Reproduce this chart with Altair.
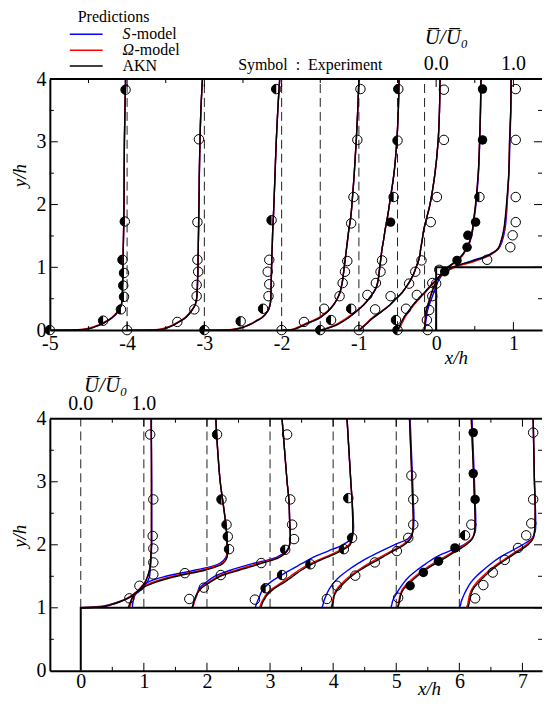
import altair as alt
import pandas as pd

FONT = "Liberation Serif"
W = 494
H1 = 252
H2 = 253
BLUE, RED, BLACK = "#0000ff", "#ff0000", "#000000"
HALF = "M0,-1 A1,1 0 0,0 0,1 Z"
NB = "\u00a0"

# ---------------- upstream panel (x/h < 0) ----------------
top_stations = [-5, -4, -3, -2, -1.5, -1, -0.5, -0.15]
top_y = [0, 0.005, 0.02, 0.05, 0.1, 0.15, 0.2, 0.3, 0.4, 0.5, 0.6, 0.7, 0.8, 0.9,
         1.0, 1.1, 1.2, 1.3, 1.4, 1.6, 1.8, 2.0, 2.5, 3.0, 3.5, 4.0]

akn_m5 = [0, 0.35, 0.50, 0.58, 0.68, 0.75, 0.81, 0.885, 0.925, 0.935, 0.94, 0.94, 0.945, 0.945, 0.945, 0.95, 0.95, 0.95, 0.952, 0.955, 0.957, 0.96, 0.962, 0.965, 0.972, 0.98]
akn_m4 = [0, 0.40, 0.48, 0.55, 0.63, 0.70, 0.76, 0.83, 0.88, 0.90, 0.905, 0.91, 0.912, 0.915, 0.917, 0.918, 0.92, 0.921, 0.922, 0.925, 0.927, 0.93, 0.935, 0.943, 0.955, 0.975]
akn_m3 = [0, 0.36, 0.43, 0.52, 0.61, 0.68, 0.75, 0.82, 0.85, 0.86, 0.862, 0.864, 0.866, 0.868, 0.87, 0.872, 0.874, 0.877, 0.88, 0.885, 0.893, 0.90, 0.915, 0.93, 0.95, 0.975]
akn_m2 = [0, 0.13, 0.18, 0.24, 0.32, 0.42, 0.50, 0.60, 0.67, 0.72, 0.755, 0.775, 0.79, 0.80, 0.81, 0.82, 0.83, 0.84, 0.85, 0.87, 0.895, 0.91, 0.94, 0.965, 0.985, 1.0]
akn_m15 = [0, 0.03, 0.07, 0.15, 0.24, 0.31, 0.37, 0.47, 0.56, 0.63, 0.69, 0.73, 0.75, 0.76, 0.77, 0.78, 0.79, 0.80, 0.815, 0.84, 0.87, 0.895, 0.955, 0.99, 1.01, 1.02]
akn_m1 = [0, 0.01, 0.025, 0.055, 0.10, 0.14, 0.19, 0.30, 0.40, 0.48, 0.56, 0.62, 0.67, 0.71, 0.74, 0.77, 0.79, 0.80, 0.815, 0.84, 0.88, 0.92, 0.985, 1.025, 1.043, 1.05]
akn_m05 = [0, 0.003, 0.01, 0.02, 0.04, 0.06, 0.08, 0.14, 0.20, 0.27, 0.35, 0.42, 0.50, 0.57, 0.65, 0.76, 0.84, 0.89, 0.93, 0.97, 0.99, 1.01, 1.045, 1.062, 1.073, 1.08]
akn_m015 = [0, 0.0, 0.002, 0.004, 0.007, 0.01, 0.013, 0.02, 0.045, 0.07, 0.095, 0.125, 0.16, 0.23, 0.36, 0.62, 0.84, 0.95, 0.985, 1.025, 1.045, 1.06, 1.09, 1.10, 1.115, 1.12]

om_m5 = [0, 0.30, 0.46, 0.56, 0.66, 0.74, 0.80, 0.88, 0.925, 0.935, 0.94, 0.94, 0.945, 0.945, 0.945, 0.95, 0.95, 0.95, 0.952, 0.955, 0.957, 0.96, 0.962, 0.965, 0.972, 0.98]
om_m4 = [0, 0.35, 0.45, 0.53, 0.62, 0.69, 0.75, 0.825, 0.88, 0.90, 0.905, 0.91, 0.912, 0.915, 0.917, 0.918, 0.92, 0.921, 0.922, 0.925, 0.927, 0.93, 0.935, 0.943, 0.955, 0.975]
om_m3 = [0, 0.32, 0.40, 0.50, 0.60, 0.67, 0.74, 0.815, 0.85, 0.86, 0.862, 0.864, 0.866, 0.868, 0.87, 0.872, 0.874, 0.877, 0.88, 0.885, 0.893, 0.90, 0.915, 0.93, 0.95, 0.975]
om_m2 = [0, 0.11, 0.16, 0.22, 0.30, 0.40, 0.48, 0.59, 0.67, 0.72, 0.755, 0.775, 0.79, 0.80, 0.81, 0.82, 0.83, 0.84, 0.85, 0.87, 0.895, 0.91, 0.94, 0.965, 0.985, 1.0]
om_m15 = [0, 0.02, 0.06, 0.13, 0.22, 0.29, 0.35, 0.46, 0.56, 0.63, 0.69, 0.73, 0.75, 0.76, 0.77, 0.78, 0.79, 0.80, 0.815, 0.84, 0.87, 0.895, 0.955, 0.99, 1.01, 1.02]
om_m1 = [0, 0.008, 0.02, 0.045, 0.09, 0.13, 0.175, 0.29, 0.40, 0.48, 0.56, 0.62, 0.67, 0.71, 0.74, 0.77, 0.79, 0.80, 0.815, 0.84, 0.88, 0.92, 0.985, 1.025, 1.043, 1.05]
om_m05 = [0, 0.01, 0.02, 0.035, 0.055, 0.075, 0.095, 0.15, 0.21, 0.28, 0.36, 0.43, 0.51, 0.58, 0.66, 0.77, 0.85, 0.895, 0.93, 0.97, 0.99, 1.01, 1.045, 1.062, 1.073, 1.08]
om_m015 = [0, 0.0, 0.0, 0.002, 0.004, 0.006, 0.009, 0.016, 0.04, 0.065, 0.09, 0.12, 0.16, 0.24, 0.39, 0.66, 0.86, 0.955, 0.99, 1.03, 1.05, 1.065, 1.09, 1.10, 1.115, 1.12]

s_m5 = [0, 0.34, 0.49, 0.575, 0.675, 0.75, 0.81, 0.885, 0.925, 0.935, 0.94, 0.94, 0.945, 0.945, 0.945, 0.95, 0.95, 0.95, 0.952, 0.955, 0.957, 0.96, 0.962, 0.965, 0.972, 0.98]
s_m4 = [0, 0.39, 0.475, 0.545, 0.625, 0.70, 0.76, 0.83, 0.88, 0.90, 0.905, 0.91, 0.912, 0.915, 0.917, 0.918, 0.92, 0.921, 0.922, 0.925, 0.927, 0.93, 0.935, 0.943, 0.955, 0.975]
s_m3 = [0, 0.35, 0.425, 0.515, 0.605, 0.68, 0.75, 0.82, 0.85, 0.86, 0.862, 0.864, 0.866, 0.868, 0.87, 0.872, 0.874, 0.877, 0.88, 0.885, 0.893, 0.90, 0.915, 0.93, 0.95, 0.975]
s_m2 = [0, 0.125, 0.175, 0.235, 0.315, 0.415, 0.50, 0.60, 0.67, 0.72, 0.755, 0.775, 0.79, 0.80, 0.81, 0.82, 0.83, 0.84, 0.85, 0.87, 0.895, 0.91, 0.94, 0.965, 0.985, 1.0]
s_m15 = [0, 0.028, 0.068, 0.145, 0.235, 0.305, 0.37, 0.47, 0.56, 0.63, 0.69, 0.73, 0.75, 0.76, 0.77, 0.78, 0.79, 0.80, 0.815, 0.84, 0.87, 0.895, 0.955, 0.99, 1.01, 1.02]
s_m1 = [0, 0.01, 0.024, 0.053, 0.098, 0.14, 0.19, 0.30, 0.40, 0.48, 0.56, 0.62, 0.67, 0.71, 0.74, 0.77, 0.79, 0.80, 0.815, 0.84, 0.88, 0.92, 0.985, 1.025, 1.043, 1.05]
s_m05 = [0, 0.004, 0.012, 0.024, 0.045, 0.065, 0.085, 0.145, 0.205, 0.275, 0.355, 0.425, 0.505, 0.575, 0.655, 0.76, 0.84, 0.895, 0.935, 0.975, 0.995, 1.015, 1.048, 1.064, 1.075, 1.082]
s_m015 = [0, 0.001, 0.004, 0.008, 0.013, 0.018, 0.024, 0.036, 0.06, 0.09, 0.12, 0.15, 0.185, 0.25, 0.37, 0.60, 0.83, 0.96, 1.0, 1.04, 1.058, 1.068, 1.092, 1.105, 1.117, 1.122]

top_akn = [akn_m5, akn_m4, akn_m3, akn_m2, akn_m15, akn_m1, akn_m05, akn_m015]
top_om = [om_m5, om_m4, om_m3, om_m2, om_m15, om_m1, om_m05, om_m015]
top_s = [s_m5, s_m4, s_m3, s_m2, s_m15, s_m1, s_m05, s_m015]

# experiment: (U/U0, y/h, symbol kind: o = open, h = half, f = filled)
exp_m5 = [(0, 0, "h"), (0.69, 0.15, "h"), (0.92, 0.33, "h"), (0.96, 0.53, "h"), (0.95, 0.71, "h"), (0.96, 0.91, "h"), (0.94, 1.12, "h"), (0.97, 1.73, "h"), (0.98, 3.83, "h")]
exp_m4 = [(0, 0, "o"), (0.65, 0.13, "o"), (0.87, 0.33, "o"), (0.90, 0.54, "o"), (0.90, 0.72, "o"), (0.92, 0.93, "o"), (0.91, 1.12, "o"), (0.91, 1.72, "o"), (0.93, 3.04, "o")]
exp_m3 = [(0, 0, "h"), (0.47, 0.14, "h"), (0.76, 0.34, "h"), (0.83, 0.54, "o"), (0.84, 0.73, "o"), (0.82, 0.93, "o"), (0.84, 1.12, "o"), (0.87, 1.75, "h"), (0.93, 3.84, "h")]
exp_m2 = [(0, 0, "o"), (0.29, 0.13, "o"), (0.55, 0.34, "o"), (0.75, 0.54, "o"), (0.79, 0.75, "o"), (0.82, 0.93, "o"), (0.85, 1.10, "o"), (0.90, 1.70, "o"), (0.93, 2.12, "o"), (0.98, 3.03, "o"), (1.02, 3.84, "o")]
exp_m15 = [(0, 0, "h"), (0.14, 0.16, "h"), (0.40, 0.34, "h"), (0.61, 0.56, "o"), (0.72, 0.75, "o"), (0.78, 0.93, "o"), (0.80, 1.11, "o"), (0.91, 1.72, "f"), (0.95, 2.12, "h"), (1.0, 3.02, "h"), (1.01, 3.84, "h")]
exp_m1 = [(0, 0, "o"), (0.21, 0.33, "o"), (0.41, 0.54, "o"), (0.65, 0.74, "o"), (0.73, 0.93, "o"), (0.81, 1.11, "o"), (0.93, 1.72, "o"), (1.01, 2.12, "o"), (1.10, 3.03, "o"), (1.10, 3.83, "o")]
exp_m05 = [(0, 0, "h"), (-0.02, 0.16, "h"), (0.11, 0.34, "o"), (0.25, 0.56, "o"), (0.45, 0.75, "o"), (0.61, 0.93, "f"), (0.77, 1.11, "f"), (0.90, 1.32, "f"), (0.91, 1.51, "f"), (1.01, 1.72, "f"), (1.06, 2.12, "h"), (1.10, 3.03, "f"), (1.10, 3.84, "f")]
exp_m015 = [(0.04, 0, "o"), (0.03, 0.16, "o"), (0.06, 0.32, "o"), (0.10, 0.54, "o"), (0.15, 0.74, "o"), (0.19, 0.96, "o"), (0.81, 1.12, "o"), (1.11, 1.32, "o"), (1.14, 1.51, "o"), (1.18, 1.72, "o"), (1.18, 2.12, "o"), (1.18, 3.03, "o"), (1.18, 3.84, "o")]
top_exp = [exp_m5, exp_m4, exp_m3, exp_m2, exp_m15, exp_m1, exp_m05, exp_m015]

top_dashed = [-4, -3, -2, -1.5, -1, -0.5, -0.15]
top_domain = [-5, 1.37]
top_step_x = [0, 0, 1.37]
top_step_y = [0, 1, 1]
top_xlabels = [-5, -4, -3, -2, -1, 0, 1]

# ---------------- downstream panel (on top of the step) ----------------
bot_stations = [0, 1, 2, 3, 4, 5, 6]
bot_y = [1.0, 1.02, 1.05, 1.1, 1.15, 1.2, 1.3, 1.4, 1.5, 1.6, 1.7, 1.8, 1.9, 2.0, 2.1, 2.2, 2.4, 2.7, 3.0, 3.5, 4.0]

akn_p0 = [0, 0.38, 0.49, 0.63, 0.74, 0.82, 0.94, 1.02, 1.06, 1.09, 1.105, 1.11, 1.115, 1.12, 1.12, 1.12, 1.12, 1.12, 1.12, 1.12, 1.115]
akn_p1 = [-0.25, -0.24, -0.23, -0.21, -0.19, -0.16, -0.05, 0.17, 0.52, 0.98, 1.25, 1.32, 1.32, 1.32, 1.31, 1.31, 1.29, 1.25, 1.21, 1.17, 1.14]
akn_p2 = [-0.23, -0.23, -0.22, -0.21, -0.19, -0.17, -0.10, 0.04, 0.21, 0.52, 0.85, 1.15, 1.27, 1.31, 1.32, 1.32, 1.31, 1.30, 1.27, 1.23, 1.19]
akn_p3 = [-0.14, -0.14, -0.13, -0.11, -0.08, -0.05, 0.06, 0.22, 0.36, 0.50, 0.68, 0.90, 1.12, 1.27, 1.30, 1.31, 1.31, 1.30, 1.28, 1.25, 1.22]
akn_p4 = [-0.02, -0.02, -0.01, 0.0, 0.01, 0.02, 0.08, 0.18, 0.29, 0.43, 0.60, 0.78, 0.95, 1.13, 1.23, 1.26, 1.27, 1.26, 1.25, 1.23, 1.21]
akn_p5 = [0.03, 0.03, 0.04, 0.05, 0.06, 0.07, 0.12, 0.22, 0.33, 0.46, 0.62, 0.79, 0.95, 1.11, 1.21, 1.24, 1.25, 1.24, 1.23, 1.21, 1.19]
akn_p6 = [0.14, 0.14, 0.15, 0.16, 0.17, 0.18, 0.22, 0.30, 0.40, 0.51, 0.64, 0.79, 0.94, 1.09, 1.17, 1.19, 1.20, 1.20, 1.19, 1.18, 1.17]

om_p0 = [0, 0.36, 0.48, 0.62, 0.73, 0.81, 0.93, 1.01, 1.06, 1.09, 1.10, 1.11, 1.115, 1.12, 1.12, 1.12, 1.12, 1.12, 1.12, 1.12, 1.115]
om_p1 = [-0.23, -0.22, -0.21, -0.20, -0.18, -0.15, -0.06, 0.12, 0.45, 0.92, 1.23, 1.31, 1.32, 1.32, 1.31, 1.31, 1.29, 1.25, 1.21, 1.17, 1.14]
om_p2 = [-0.22, -0.22, -0.21, -0.20, -0.18, -0.17, -0.11, 0.02, 0.18, 0.47, 0.80, 1.13, 1.27, 1.31, 1.32, 1.32, 1.31, 1.30, 1.27, 1.23, 1.19]
om_p3 = [-0.16, -0.16, -0.15, -0.13, -0.10, -0.07, 0.03, 0.18, 0.32, 0.46, 0.64, 0.86, 1.08, 1.25, 1.30, 1.31, 1.31, 1.30, 1.28, 1.25, 1.22]
om_p4 = [-0.03, -0.03, -0.02, -0.01, 0.0, 0.01, 0.06, 0.15, 0.26, 0.40, 0.56, 0.74, 0.92, 1.10, 1.22, 1.26, 1.27, 1.26, 1.25, 1.23, 1.21]
om_p5 = [0.02, 0.02, 0.03, 0.04, 0.05, 0.06, 0.10, 0.19, 0.30, 0.43, 0.58, 0.75, 0.92, 1.08, 1.20, 1.24, 1.25, 1.24, 1.23, 1.21, 1.19]
om_p6 = [0.12, 0.12, 0.13, 0.14, 0.15, 0.16, 0.20, 0.27, 0.37, 0.48, 0.61, 0.76, 0.91, 1.06, 1.16, 1.19, 1.20, 1.20, 1.19, 1.18, 1.17]

s_p0 = [0, 0.30, 0.45, 0.62, 0.75, 0.84, 0.97, 1.05, 1.09, 1.10, 1.11, 1.115, 1.12, 1.125, 1.125, 1.125, 1.125, 1.125, 1.125, 1.12, 1.12]
s_p1 = [-0.18, -0.18, -0.18, -0.17, -0.16, -0.14, -0.07, 0.05, 0.35, 0.82, 1.20, 1.30, 1.32, 1.32, 1.32, 1.31, 1.29, 1.25, 1.21, 1.17, 1.14]
s_p2 = [-0.23, -0.23, -0.22, -0.20, -0.18, -0.16, -0.13, -0.02, 0.12, 0.38, 0.72, 1.10, 1.26, 1.31, 1.32, 1.32, 1.31, 1.30, 1.27, 1.23, 1.19]
s_p3 = [-0.23, -0.23, -0.22, -0.20, -0.18, -0.16, -0.11, 0.0, 0.15, 0.32, 0.50, 0.68, 0.92, 1.15, 1.29, 1.32, 1.32, 1.30, 1.28, 1.25, 1.22]
s_p4 = [-0.17, -0.17, -0.16, -0.15, -0.13, -0.11, -0.06, 0.01, 0.11, 0.24, 0.39, 0.56, 0.76, 0.97, 1.19, 1.26, 1.28, 1.27, 1.26, 1.24, 1.22]
s_p5 = [-0.08, -0.08, -0.07, -0.06, -0.04, -0.01, 0.05, 0.12, 0.21, 0.33, 0.47, 0.62, 0.84, 1.07, 1.20, 1.25, 1.26, 1.25, 1.24, 1.22, 1.20]
s_p6 = [0.01, 0.01, 0.02, 0.03, 0.05, 0.07, 0.12, 0.18, 0.27, 0.38, 0.50, 0.64, 0.82, 1.00, 1.15, 1.20, 1.21, 1.20, 1.19, 1.18, 1.17]

bot_akn = [akn_p0, akn_p1, akn_p2, akn_p3, akn_p4, akn_p5, akn_p6]
bot_om = [om_p0, om_p1, om_p2, om_p3, om_p4, om_p5, om_p6]
bot_s = [s_p0, s_p1, s_p2, s_p3, s_p4, s_p5, s_p6]

exp_p0 = [(1.10, 3.75, "o"), (1.15, 2.72, "o"), (1.14, 2.14, "o"), (1.15, 1.94, "o"), (1.15, 1.72, "o"), (1.15, 1.53, "o"), (0.93, 1.35, "o"), (0.77, 1.15, "o")]
exp_p1 = [(1.16, 3.75, "h"), (1.23, 2.72, "h"), (1.31, 2.32, "h"), (1.33, 2.13, "h"), (1.35, 1.93, "h"), (1.22, 1.52, "o"), (0.65, 1.55, "o")]
exp_p2 = [(1.27, 3.75, "o"), (1.32, 2.72, "o"), (1.35, 2.32, "o"), (1.38, 2.09, "o"), (1.24, 1.92, "h"), (0.86, 1.71, "o"), (-0.05, 1.32, "o"), (-0.28, 1.14, "o")]
exp_p3 = [(1.24, 2.74, "h"), (1.30, 2.11, "h"), (1.17, 1.93, "h"), (0.64, 1.69, "h"), (0.19, 1.52, "h"), (-0.07, 1.31, "h"), (-0.24, 1.13, "o")]
exp_p4 = [(-0.10, 1.14, "o"), (0.06, 1.35, "o"), (0.35, 1.51, "o"), (0.66, 1.72, "o"), (1.01, 1.90, "o"), (1.19, 2.11, "o"), (1.27, 2.32, "o"), (1.27, 2.72, "o"), (1.24, 3.10, "o")]
exp_p5 = [(0.03, 1.16, "o"), (0.22, 1.35, "f"), (0.43, 1.56, "f"), (0.67, 1.74, "f"), (0.93, 1.95, "f"), (1.09, 2.15, "h"), (1.19, 2.32, "o"), (1.25, 2.72, "f"), (1.22, 3.13, "f"), (1.22, 3.78, "f")]
exp_p6 = [(0.25, 1.15, "o"), (0.38, 1.36, "o"), (0.53, 1.56, "o"), (0.72, 1.76, "o"), (0.93, 1.95, "o"), (1.06, 2.15, "o"), (1.14, 2.34, "o"), (1.17, 2.72, "o"), (1.17, 3.78, "o")]
bot_exp = [exp_p0, exp_p1, exp_p2, exp_p3, exp_p4, exp_p5, exp_p6]

bot_dashed = [0, 1, 2, 3, 4, 5, 6]
bot_domain = [-0.49, 7.31]
bot_step_x = [0, 0, 7.31]
bot_step_y = [0, 1, 1]
bot_xlabels = [0, 1, 2, 3, 4, 5, 6, 7]

y_labels = [0, 1, 2, 3, 4]
u_scale_x = [0, 1]
u_scale_text = ["0.0", "1.0"]


# ---------------- helpers ----------------
def lines_df(stations, grid, lists):
    rows = []
    for st, us in zip(stations, lists):
        for i, (yy, u) in enumerate(zip(grid, us)):
            rows.append({"station": st, "i": i, "x": st + u, "y": yy})
    return pd.DataFrame(rows)


def exp_df(stations, lists):
    rows = []
    for st, pts in zip(stations, lists):
        for u, yy, k in pts:
            rows.append({"station": st, "x": st + u, "y": yy, "kind": k})
    return pd.DataFrame(rows)


def note(s, px, py, size=16, style="normal", align="left", angle=0):
    return alt.Chart(alt.Data(values=[{}])).mark_text(
        text=s, font=FONT, fontSize=size, fontStyle=style, align=align,
        baseline="alphabetic", color="black", angle=angle
    ).encode(x=alt.value(px), y=alt.value(py))


def panel(H, xs, ys, stations, grid, s_l, om_l, akn_l, exps, dashed, dash_y0,
          step_x, step_y, xlabels, xlab_pad, xtitle_x, xtitle_y, ytitle_y, xmaj, xmin):
    X = lambda: alt.X("x:Q", scale=xs)
    Y = lambda: alt.Y("y:Q", scale=ys)

    dd = pd.DataFrame({"x": dashed, "y": [dash_y0] * len(dashed), "y2": [4] * len(dashed)})
    base = alt.Chart(dd).mark_rule(color="#222222", strokeWidth=1, strokeDash=[9, 5]).encode(
        x=alt.X("x:Q", scale=xs, title=None, axis=alt.Axis(
            values=xlabels, labelExpr="'' + datum.value", labelFont=FONT, labelFontSize=20,
            labelColor="black", labelPadding=xlab_pad, labelFlush=False, labelOverlap=False,
            ticks=False, domain=True, domainColor="black", domainWidth=2, grid=False,
            title=None)),
        y=alt.Y("y:Q", scale=ys, title=None, axis=alt.Axis(
            values=y_labels, labelExpr="'' + datum.value", labelFont=FONT, labelFontSize=20,
            labelColor="black", labelPadding=4, labelFlush=False, labelOverlap=False,
            ticks=False, domain=True, domainColor="black", domainWidth=2, grid=False,
            title=None)),
        y2="y2:Q",
    )

    layers = [base]
    for lists, col in [(s_l, BLUE), (om_l, RED), (akn_l, BLACK)]:
        layers.append(
            alt.Chart(lines_df(stations, grid, lists)).mark_line(
                color=col, strokeWidth=1.4, interpolate="catmull-rom", clip=True
            ).encode(x=X(), y=Y(), detail="station:N", order="i:Q")
        )

    sd = pd.DataFrame({"x": step_x, "y": step_y, "i": list(range(len(step_x)))})
    layers.append(alt.Chart(sd).mark_line(color="black", strokeWidth=2, clip=True).encode(
        x=X(), y=Y(), order="i:Q"))

    ed = exp_df(stations, exps)
    sym = dict(size=90, color="black", opacity=1)
    layers.append(alt.Chart(ed).transform_filter("datum.kind == 'h'").mark_point(
        shape=HALF, filled=True, strokeWidth=0, **sym).encode(x=X(), y=Y()))
    layers.append(alt.Chart(ed).transform_filter("datum.kind == 'f'").mark_point(
        shape="circle", filled=True, **sym).encode(x=X(), y=Y()))
    layers.append(alt.Chart(ed).transform_filter("datum.kind != 'f'").mark_point(
        shape="circle", filled=False, strokeWidth=1, **sym).encode(x=X(), y=Y()))

    # frame top line and inward ticks
    layers.append(alt.Chart(alt.Data(values=[{}])).mark_rule(color="black", strokeWidth=2).encode(
        x=alt.value(0), x2=alt.value(W), y=alt.value(0)))
    for vals, L in [(xmaj, 8), (xmin, 4)]:
        td = pd.DataFrame({"x": vals})
        layers.append(alt.Chart(td).mark_rule(color="black", strokeWidth=1).encode(
            x=X(), y=alt.value(0), y2=alt.value(L)))
        layers.append(alt.Chart(td).mark_rule(color="black", strokeWidth=1).encode(
            x=X(), y=alt.value(H), y2=alt.value(H - L)))
    for vals, L in [([1, 2, 3], 8), ([0.5, 1.5, 2.5, 3.5], 4)]:
        td = pd.DataFrame({"y": vals})
        layers.append(alt.Chart(td).mark_rule(color="black", strokeWidth=1).encode(
            y=Y(), x=alt.value(0), x2=alt.value(L)))
        layers.append(alt.Chart(td).mark_rule(color="black", strokeWidth=1).encode(
            y=Y(), x=alt.value(W), x2=alt.value(W - L)))

    ud = pd.DataFrame({"x": u_scale_x, "t": u_scale_text})
    layers.append(alt.Chart(ud).mark_text(font=FONT, fontSize=20, baseline="alphabetic",
                                          align="center", color="black").encode(
        x=X(), y=alt.value(-9), text="t:N"))

    # axis titles as text
    layers.append(note("x/h", xtitle_x, H + xtitle_y, 19, "italic", "center"))
    layers.append(note("y/h", -24, ytitle_y, 19, "italic", "center", 270))
    return layers


xs_top = alt.Scale(domain=top_domain, nice=False, zero=False)
ys_top = alt.Scale(domain=[0, 4], nice=False, zero=False)
xs_bot = alt.Scale(domain=bot_domain, nice=False, zero=False)
ys_bot = alt.Scale(domain=[0, 4], nice=False, zero=False)

top_layers = panel(H1, xs_top, ys_top, top_stations, top_y, top_s, top_om, top_akn, top_exp,
                   top_dashed, 0, top_step_x, top_step_y, top_xlabels, 3, 408, 34, 97,
                   [-4, -3, -2, -1, 0, 1], [-4.5, -3.5, -2.5, -1.5, -0.5, 0.5])
top_layers += [
    note("Predictions", 28, -57.5, 16),
    alt.Chart(alt.Data(values=[{}])).mark_rule(color=BLUE, strokeWidth=1.5).encode(
        x=alt.value(20), x2=alt.value(53), y=alt.value(-45)),
    alt.Chart(alt.Data(values=[{}])).mark_rule(color=RED, strokeWidth=1.5).encode(
        x=alt.value(20), x2=alt.value(53), y=alt.value(-29)),
    alt.Chart(alt.Data(values=[{}])).mark_rule(color=BLACK, strokeWidth=1.5).encode(
        x=alt.value(20), x2=alt.value(53), y=alt.value(-13)),
    note("S", 73, -40, 16, "italic"),
    note("-model", 82, -40, 16),
    note("\u03a9", 73, -24, 16, "italic"),
    note("-model", 85, -24, 16),
    note("AKN", 73, -8, 16),
    note("Symbol" + NB + NB + ":" + NB + NB + "Experiment", 189, -9, 16),
    note("U\u0305/U\u0305\u2080", 398, -35, 21, "italic", "center"),
]

bot_layers = panel(H2, xs_bot, ys_bot, bot_stations, bot_y, bot_s, bot_om, bot_akn, bot_exp,
                   bot_dashed, 1, bot_step_x, bot_step_y, bot_xlabels, 1, 381, 24, 118,
                   [1, 2, 3, 4, 5, 6, 7], [0.5, 1.5, 2.5, 3.5, 4.5, 5.5, 6.5])
bot_layers += [note("U\u0305/U\u0305\u2080", 56, -27, 21, "italic", "center")]

top = alt.layer(*top_layers).properties(width=W, height=H1)
bot = alt.layer(*bot_layers).properties(width=W, height=H2)

chart = alt.vconcat(top, bot, spacing=89, bounds="flush").properties(
    padding={"left": 3, "top": -1, "right": 0, "bottom": 0}
).configure_view(stroke=None).configure_axis(labelFont=FONT, titleFont=FONT)

chart.save("out.html", embed_options={"renderer": "svg", "actions": False})
